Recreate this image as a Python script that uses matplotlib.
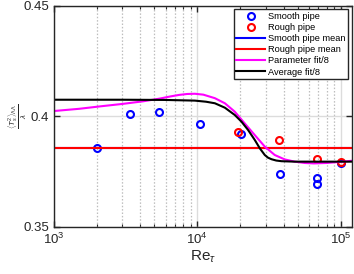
import matplotlib
matplotlib.use("Agg")
import matplotlib.pyplot as plt
import numpy as np
from matplotlib.ticker import LogLocator, NullFormatter

plt.rcParams['font.family'] = ['Liberation Sans', 'DejaVu Sans']
plt.rcParams['mathtext.fontset'] = 'custom'
plt.rcParams['mathtext.rm'] = 'Liberation Sans'
plt.rcParams['mathtext.it'] = 'Liberation Sans:italic'

# Smooth pipe data
smooth_re = [2000, 3390, 5420, 10400, 20300, 37500, 68000, 68000, 100000]
smooth_val = [0.3855, 0.4012, 0.4020, 0.3967, 0.3918, 0.3737, 0.3722, 0.3696, 0.3790]
# Rough pipe data
rough_re = [19200, 37000, 68700, 100000]
rough_val = [0.3929, 0.3894, 0.3808, 0.3793]

# Parameter fit/8
param_re = [1000, 1500, 2100, 3000, 4200, 5450, 6500, 7500, 8500, 9600, 11000, 13250, 15560,
            18240, 21400, 25160, 29540, 34670, 40700, 47770, 56000, 65000, 80000, 100000, 120000]
param_val = [0.4024, 0.4034, 0.4045, 0.4056, 0.4068, 0.4080, 0.4090, 0.4097, 0.4101, 0.4102,
             0.4098, 0.4082, 0.4059, 0.4021, 0.3968, 0.3915, 0.3863, 0.3825, 0.3805, 0.3795,
             0.3789, 0.3787, 0.3789, 0.3794, 0.3799]
# Average fit/8
avg_re = [1000, 3000, 6000, 9600, 11500, 13250, 15560, 18240, 20300, 22600, 25160, 27290,
          29540, 31100, 32880, 35500, 38620, 47770, 60000, 120000]
avg_val = [0.4075, 0.4075, 0.4074, 0.4071, 0.4066, 0.4059, 0.4039, 0.4006, 0.3976, 0.3938,
           0.3893, 0.3855, 0.3825, 0.3813, 0.3806, 0.3800, 0.3797, 0.3795, 0.3795, 0.3795]

xticks = [1e3, 1e4, 1e5]
xticklabels = ['$10^3$', '$10^4$', '$10^5$']
yticks = [0.35, 0.4, 0.45]
yticklabels = ['0.35', '0.4', '0.45']

fig = plt.figure(figsize=(3.54, 2.74), dpi=100)
ax = fig.add_axes([0.1525, 0.172, 0.842, 0.807])

ax.set_xscale('log')
ax.set_xlim(1e3, 1.2e5)
ax.set_ylim(0.35, 0.45)

# grid
ax.xaxis.set_minor_locator(LogLocator(base=10, subs=np.arange(2, 10)))
ax.xaxis.set_minor_formatter(NullFormatter())
ax.grid(True, which='major', color='#dcdcdc', linestyle='-', linewidth=1.0)
ax.grid(True, which='minor', axis='x', color='#bdbdbd', linestyle=(0, (1.2, 1.5)), linewidth=0.9)
ax.set_axisbelow(True)

smooth_mean = np.mean(smooth_val)
rough_mean = np.mean(rough_val)

h1, = ax.plot(smooth_re, smooth_val, 'o', mfc='none', mec='#0000ff', mew=1.5, ms=5, label='Smooth pipe')
h2, = ax.plot(rough_re, rough_val, 'o', mfc='none', mec='#ff0000', mew=1.5, ms=5, label='Rough pipe')
h3, = ax.plot([1e3, 1.2e5], [smooth_mean, smooth_mean], color='#0000ff', lw=1.5, label='Smooth pipe mean')
h4, = ax.plot([1e3, 1.2e5], [rough_mean, rough_mean], color='#ff0000', lw=1.5, label='Rough pipe mean')
h5, = ax.plot(param_re, param_val, color='#ff00ff', lw=1.5, label='Parameter fit/8')
h6, = ax.plot(avg_re, avg_val, color='black', lw=1.5, label='Average fit/8')

ax.set_xticks(xticks)
ax.set_xticklabels(xticklabels)
ax.set_yticks(yticks)
ax.set_yticklabels(yticklabels)
ax.tick_params(which='both', direction='in', top=True, right=True, labelsize=9.5, colors='#262626')
ax.tick_params(which='major', length=4, width=1)
ax.tick_params(which='minor', length=2.5, width=0.8)
for s in ax.spines.values():
    s.set_color('#262626')
    s.set_linewidth(1.0)

ax.set_xlabel(r'Re$_\tau$', fontsize=11, color='#262626', labelpad=1)
ax.set_ylabel(r'$\frac{\langle T_s^2\rangle_{\Lambda\Lambda}}{\lambda}$', fontsize=8, color='#262626')
ax.yaxis.set_label_coords(-0.085, 0.5)

leg = ax.legend(handles=[h1, h2, h3, h4, h5, h6], loc='upper right', fontsize=6.7,
                frameon=True, fancybox=False, framealpha=1, edgecolor='#262626',
                handlelength=3.1, handletextpad=0.3, labelspacing=0.22, borderpad=0.3,
                borderaxespad=0.4)
leg.get_frame().set_linewidth(1.0)

fig.savefig('out.png', dpi=100)
